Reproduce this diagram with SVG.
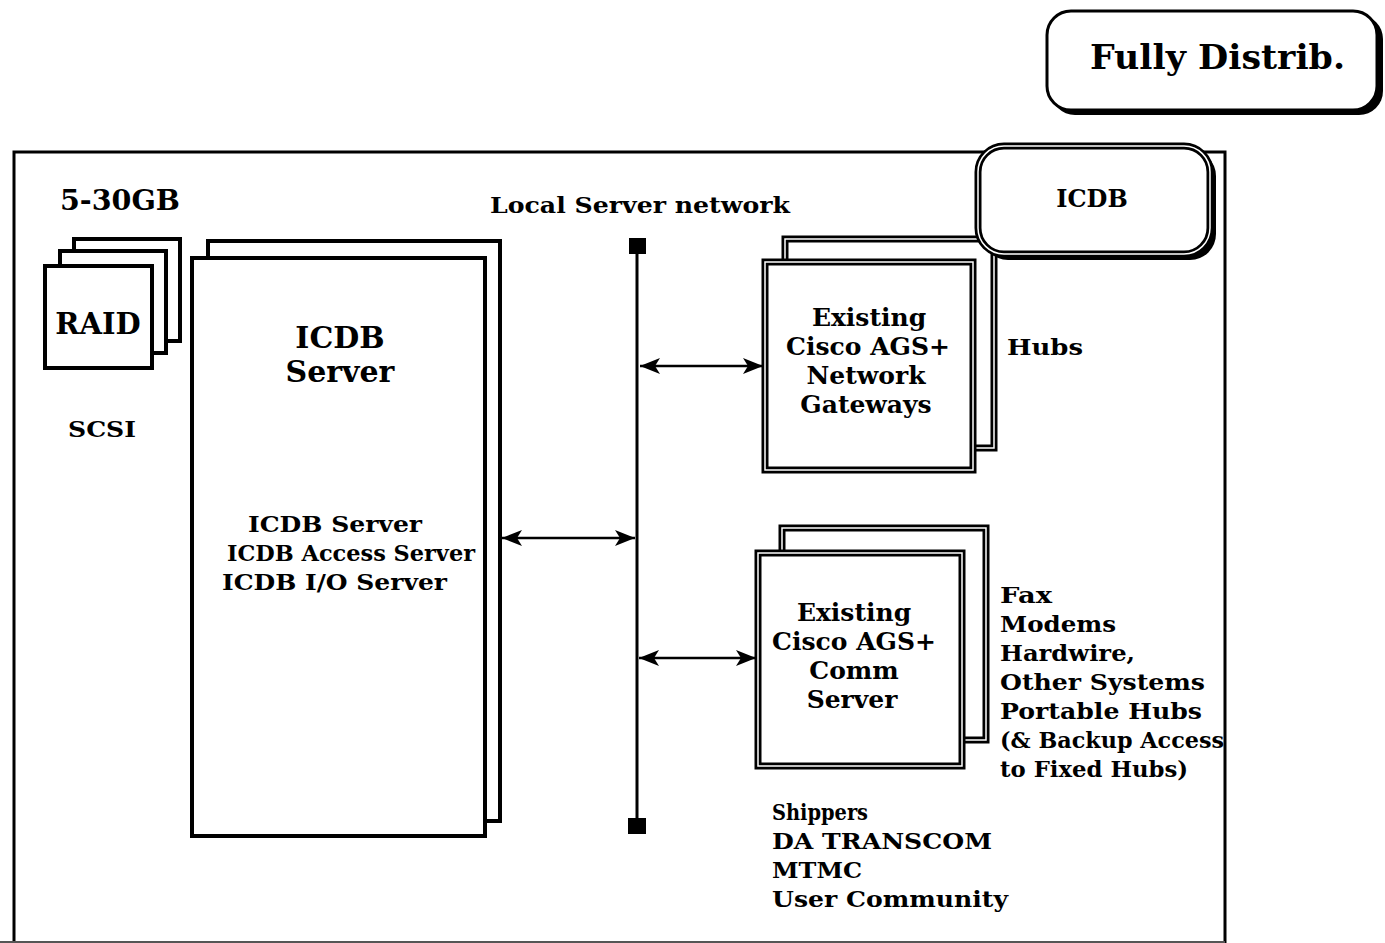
<svg xmlns="http://www.w3.org/2000/svg" width="1385" height="943" viewBox="0 0 1385 943">
<style>
text{font-family:"DejaVu Serif","Liberation Serif",serif;font-weight:bold;fill:#000}
.t{font-size:23px}
.g{font-size:25px}
.c{text-anchor:middle}
.box{fill:#fff;stroke:#000;stroke-width:4}
.dbl{fill:#fff;stroke:#000;stroke-width:7}
.inner{fill:none;stroke:#fff;stroke-width:1.5}
.con{stroke:#000;stroke-width:2.5;fill:none}
</style>
<defs>
<marker id="ah" viewBox="0 0 20 16" refX="20" refY="8" markerWidth="20" markerHeight="16" markerUnits="userSpaceOnUse" orient="auto-start-reverse">
<path d="M20,8 L0,0 L5,8 L0,16 Z" fill="#000"/>
</marker>
</defs>
<rect width="1385" height="943" fill="#fff"/>

<g id="frame">
<path d="M14,943 L14,152 L1225,152 L1225,943" fill="none" stroke="#000" stroke-width="3"/>
<line x1="0" y1="942" x2="1225" y2="942" stroke="#555" stroke-width="2"/>
</g>

<g id="fully-distrib">
<rect x="1051" y="15" width="332" height="100" rx="24" fill="#000"/>
<rect x="1047" y="11" width="330" height="99" rx="24" fill="#fff" stroke="#000" stroke-width="3"/>
<text x="1090" y="69" font-size="34" textLength="255" lengthAdjust="spacingAndGlyphs">Fully Distrib.</text>
</g>

<g id="raid">
<rect x="74" y="239" width="106" height="102" class="box" stroke-width="3.5"/>
<rect x="60" y="251" width="106" height="102" class="box" stroke-width="3.5"/>
<rect x="45" y="266" width="107" height="102" class="box" stroke-width="3.5"/>
<text x="98" y="334" font-size="29" class="c">RAID</text>
</g>
<text x="60" y="210" font-size="27" textLength="120" lengthAdjust="spacingAndGlyphs">5-30GB</text>
<text x="68" y="437" class="t" textLength="68" lengthAdjust="spacingAndGlyphs">SCSI</text>

<g id="icdb-server">
<rect x="208" y="241" width="292" height="580" class="box"/>
<rect x="192" y="258" width="293" height="578" class="box"/>
<text x="340" y="348" font-size="30" class="c">ICDB</text>
<text x="340" y="382" font-size="30" class="c">Server</text>
<text x="248" y="532" font-size="22" textLength="174" lengthAdjust="spacingAndGlyphs">ICDB Server</text>
<text x="227" y="561" font-size="22" textLength="248" lengthAdjust="spacingAndGlyphs">ICDB Access Server</text>
<text x="222" y="590" font-size="22" textLength="225" lengthAdjust="spacingAndGlyphs">ICDB I/O Server</text>
</g>

<g id="bus">
<line x1="637" y1="246" x2="637" y2="826" stroke="#000" stroke-width="3"/>
<rect x="629" y="238" width="17" height="16" fill="#000"/>
<rect x="628" y="818" width="18" height="16" fill="#000"/>
<text x="490" y="213" font-size="23" textLength="300" lengthAdjust="spacingAndGlyphs">Local Server network</text>
</g>

<g id="gateways">
<rect x="785" y="239" width="209" height="209" class="dbl" stroke-width="6"/>
<rect x="785" y="239" width="209" height="209" class="inner"/>
<rect x="765" y="262" width="208" height="208" class="dbl"/>
<rect x="765" y="262" width="208" height="208" class="inner"/>
<text x="869" y="326" class="g c">Existing</text>
<text x="868" y="355" class="g c">Cisco AGS+</text>
<text x="866" y="384" class="g c">Network</text>
<text x="866" y="413" class="g c">Gateways</text>
</g>
<text x="1007" y="355" class="t" textLength="76" lengthAdjust="spacingAndGlyphs">Hubs</text>

<g id="icdb">
<rect x="982" y="150" width="234" height="110" rx="26" fill="#000"/>
<rect x="978" y="146" width="232" height="108" rx="26" class="dbl"/>
<rect x="978" y="146" width="232" height="108" rx="26" class="inner"/>
<text x="1092" y="207" font-size="24" class="c">ICDB</text>
</g>

<g id="comm-server">
<rect x="782" y="528" width="204" height="212" class="dbl" stroke-width="6"/>
<rect x="782" y="528" width="204" height="212" class="inner"/>
<rect x="758" y="553" width="204" height="213" class="dbl"/>
<rect x="758" y="553" width="204" height="213" class="inner"/>
<text x="854" y="621" class="g c">Existing</text>
<text x="854" y="650" class="g c">Cisco AGS+</text>
<text x="854" y="679" class="g c">Comm</text>
<text x="852" y="708" class="g c">Server</text>
</g>

<g id="comm-labels">
<text x="1000" y="603" class="t" textLength="52" lengthAdjust="spacingAndGlyphs">Fax</text>
<text x="1000" y="632" class="t" textLength="116" lengthAdjust="spacingAndGlyphs">Modems</text>
<text x="1000" y="661" class="t" textLength="135" lengthAdjust="spacingAndGlyphs">Hardwire,</text>
<text x="1000" y="690" class="t" textLength="205" lengthAdjust="spacingAndGlyphs">Other Systems</text>
<text x="1000" y="719" class="t" textLength="202" lengthAdjust="spacingAndGlyphs">Portable Hubs</text>
<text x="1000" y="748" font-size="22" textLength="224" lengthAdjust="spacingAndGlyphs">(&amp; Backup Access</text>
<text x="1000" y="777" font-size="22" textLength="188" lengthAdjust="spacingAndGlyphs">to Fixed Hubs)</text>
</g>

<g id="users">
<text x="772" y="820" class="t" textLength="96" lengthAdjust="spacingAndGlyphs">Shippers</text>
<text x="772" y="849" class="t" textLength="220" lengthAdjust="spacingAndGlyphs">DA TRANSCOM</text>
<text x="772" y="878" class="t" textLength="90" lengthAdjust="spacingAndGlyphs">MTMC</text>
<text x="772" y="907" class="t" textLength="236" lengthAdjust="spacingAndGlyphs">User Community</text>
</g>

<g id="connectors">
<line x1="640" y1="366" x2="763" y2="366" class="con" marker-start="url(#ah)" marker-end="url(#ah)"/>
<line x1="502" y1="538" x2="635" y2="538" class="con" marker-start="url(#ah)" marker-end="url(#ah)"/>
<line x1="639" y1="658" x2="756" y2="658" class="con" marker-start="url(#ah)" marker-end="url(#ah)"/>
</g>
</svg>
